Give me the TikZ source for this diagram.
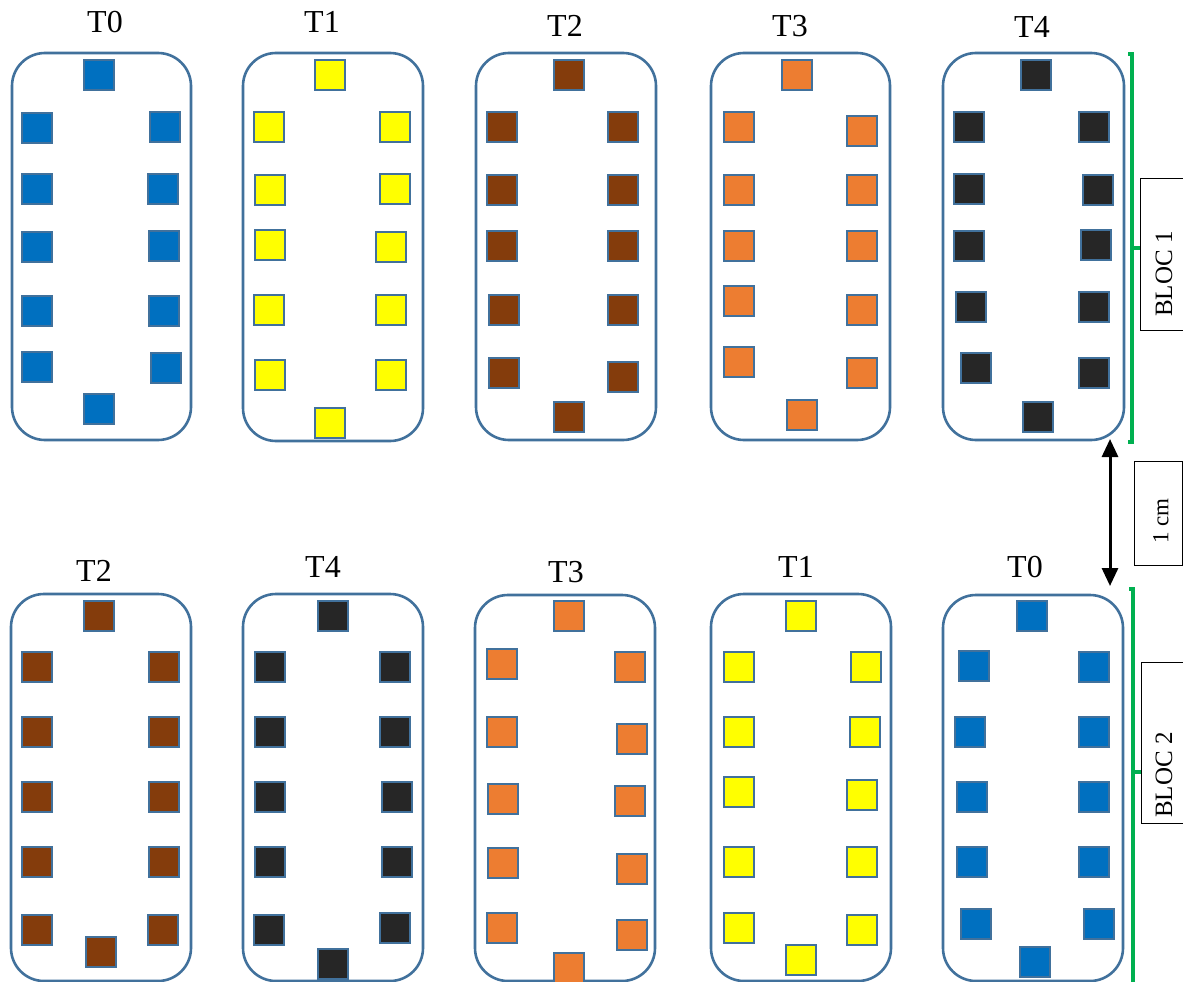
\documentclass[tikz,border=0pt]{standalone}
\usepackage{fontspec}
\setmainfont{Liberation Serif}
\usetikzlibrary{arrows.meta}
\definecolor{edgeblue}{HTML}{41719C}
\definecolor{seatblue}{HTML}{0070C0}
\definecolor{seatyellow}{HTML}{FFFF00}
\definecolor{seatbrown}{HTML}{843C0C}
\definecolor{seatorange}{HTML}{ED7D31}
\definecolor{seatdark}{HTML}{262626}
\definecolor{brgreen}{HTML}{00B050}
\newcommand\mytbl[5]{%
  \pgfmathsetmacro\tw{#4-#2}\pgfmathsetmacro\th{#5-#3}%
  \node[tablebox,minimum width=\tw pt,minimum height=\th pt] (#1) at ({(#2+#4)/2},{(#3+#5)/2}) {};}
\newcommand\myseats[3]{%
  \foreach \sx/\sy [count=\k] in {#3} {\node[seat,fill=#2] (#1-\k) at (\sx+16,\sy+16) {};}}
\begin{document}
\begin{tikzpicture}[x=1pt,y=-1pt,
  tablebox/.style={draw=edgeblue,line width=2.6pt,rounded corners=33pt,fill=white,inner sep=0pt},
  seat/.style={draw=edgeblue,line width=2.1pt,minimum size=30pt,inner sep=0pt},
  tlabel/.style={font=\fontsize{32}{36}\selectfont,anchor=base,inner sep=0pt},
  bracket/.style={draw=brgreen,line width=3.2pt},
  blocbox/.style={draw=black,line width=1pt},
  bloctext/.style={font=\fontsize{25}{28}\selectfont,rotate=90,inner sep=0pt},
  cmtext/.style={font=\fontsize{23}{26}\selectfont,rotate=90,inner sep=0pt}]
\useasboundingbox[fill=white] (0,0) rectangle (1183,982);

% ---- top row (BLOC 1)
\mytbl{A0}{12}{53}{191}{440}
\myseats{A0s}{seatblue}{83/59,21/112,21/173,21/231,21/295,21/351,149/111,147/173,148/230,148/295,150/352,83/393}
\mytbl{A1}{243}{53}{423}{441}
\myseats{A1s}{seatyellow}{314/59,253/111,254/174,254/229,253/294,254/359,379/111,379/173,375/231,375/294,375/359,314/407}
\mytbl{A2}{476}{53}{656}{440}
\myseats{A2s}{seatbrown}{553/59,486/111,486/174,486/230,488/294,488/357,607/111,607/174,607/230,607/294,607/361,553/401}
\mytbl{A3}{711}{53}{890}{440}
\myseats{A3s}{seatorange}{781/59,723/111,723/174,723/230,723/285,723/346,846/115,846/174,846/230,846/294,846/357,786/399}
\mytbl{A4}{943}{53}{1124}{440}
\myseats{A4s}{seatdark}{1020/59,953/111,953/173,953/230,955/291,960/352,1078/111,1082/174,1080/229,1078/291,1078/357,1022/401}

\node[tlabel] (la0) at (105,33) {T0};
\node[tlabel] (la1) at (322,33) {T1};
\node[tlabel] (la2) at (565,37) {T2};
\node[tlabel] (la3) at (790,37) {T3};
\node[tlabel] (la4) at (1032,38) {T4};

% ---- bottom row (BLOC 2)
\mytbl{B0}{11}{594}{191}{981}
\myseats{B0s}{seatbrown}{83/600,21/651,21/716,21/781,21/846,21/914,148/651,148/716,148/781,148/846,147/914,85/936}
\mytbl{B1}{243}{594}{423}{981}
\myseats{B1s}{seatdark}{317/600,254/651,254/716,254/781,254/846,253/914,379/651,379/716,381/781,381/846,379/912,317/948}
\mytbl{B2}{475}{595}{655}{981}
\myseats{B2s}{seatorange}{553/600,486/648,486/716,487/783,487/847,486/912,614/651,616/723,614/785,616/853,616/919,553/952}
\mytbl{B3}{711}{594}{891}{981}
\myseats{B3s}{seatyellow}{785/600,723/651,723/716,723/776,723/846,723/912,850/651,849/716,846/779,846/846,846/914,785/944}
\mytbl{B4}{943}{595}{1123}{981}
\myseats{B4s}{seatblue}{1016/600,958/650,954/716,956/781,956/846,960/908,1078/651,1078/716,1078/781,1078/846,1083/908,1019/946}

\node[tlabel] (lb0) at (94,581) {T2};
\node[tlabel] (lb1) at (323,577) {T4};
\node[tlabel] (lb2) at (566,582) {T3};
\node[tlabel] (lb3) at (796,577) {T1};
\node[tlabel] (lb4) at (1025,577) {T0};

% ---- brackets
\coordinate (br1t) at (1132,54);
\coordinate (br1b) at (1132,442);
\coordinate (br1m) at (1132,248);
\draw[bracket] (1128,54) -- (br1t) -- (br1b) -- (1128,442);
\draw[bracket] (br1m) -- (1140,248);
\coordinate (br2t) at (1133,589);
\coordinate (br2b) at (1133,986);
\coordinate (br2m) at (1133,772);
\draw[bracket] (1129,589) -- (br2t) -- (br2b);
\draw[bracket] (br2m) -- (1141,772);

% ---- label boxes
\draw[blocbox] (1185,178) -- (1140,178) -- (1140,330) -- (1185,330);
\node[bloctext] (bloc1) at (1164,274) {BLOC 1};
\draw[blocbox] (1134,461) rectangle (1182.5,565);
\node[cmtext] (cm) at (1161,521) {1 cm};
\draw[blocbox] (1185,662) -- (1141,662) -- (1141,823) -- (1185,823);
\node[bloctext] (bloc2) at (1164,775) {BLOC 2};

% ---- distance arrow
\coordinate (ar1) at (1110,439);
\coordinate (ar2) at (1110,586);
\draw[line width=3pt,{Triangle[length=18pt,width=16pt]}-{Triangle[length=18pt,width=16pt]}] (ar1) -- (ar2);
\end{tikzpicture}
\end{document}
